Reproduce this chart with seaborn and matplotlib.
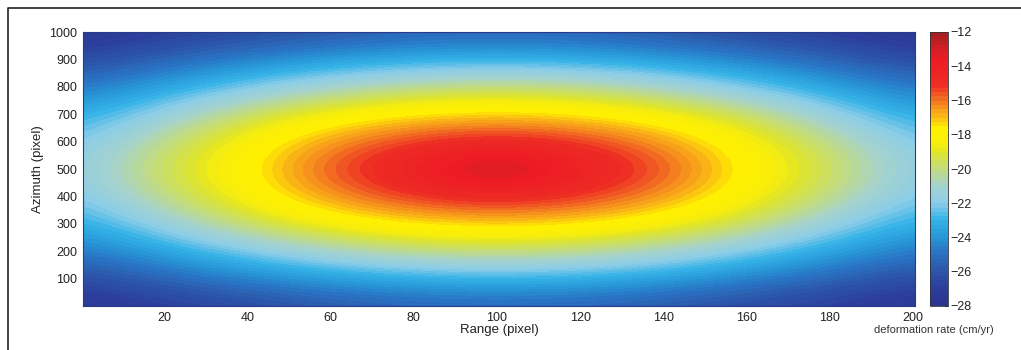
import numpy as np
import matplotlib
matplotlib.use('Agg')
import matplotlib.pyplot as plt
import seaborn as sns
from matplotlib.lines import Line2D
from matplotlib.colors import LinearSegmentedColormap

sns.set_style('white')
plt.rcParams['font.family'] = ['Liberation Sans', 'DejaVu Sans']

# sample positions (range / azimuth, pixels)
range_px = [0, 20, 40, 60, 80, 100, 120, 140, 160, 180, 200]
azimuth_px = [0, 100, 200, 300, 400, 500, 600, 700, 800, 900, 1000]

# deformation rate (cm/yr) at each azimuth row, one value per range sample
rate_az0 = [-27.7, -27.1, -26.5, -26.0, -25.6, -25.5, -25.6, -26.0, -26.5, -27.1, -27.7]
rate_az100 = [-26.4, -25.4, -24.5, -23.7, -23.2, -23.0, -23.2, -23.7, -24.5, -25.4, -26.4]
rate_az200 = [-24.8, -23.5, -22.1, -20.9, -20.1, -19.8, -20.1, -20.9, -22.1, -23.5, -24.8]
rate_az300 = [-23.3, -21.5, -19.6, -18.3, -17.5, -17.2, -17.5, -18.3, -19.6, -21.5, -23.3]
rate_az400 = [-22.2, -20.0, -18.2, -16.4, -15.0, -14.5, -15.0, -16.4, -18.2, -20.0, -22.2]
rate_az500 = [-21.8, -19.4, -17.8, -15.4, -13.9, -12.0, -13.9, -15.4, -17.8, -19.4, -21.8]
rate_az600 = [-22.2, -20.0, -18.2, -16.4, -15.0, -14.5, -15.0, -16.4, -18.2, -20.0, -22.2]
rate_az700 = [-23.3, -21.5, -19.6, -18.3, -17.5, -17.2, -17.5, -18.3, -19.6, -21.5, -23.3]
rate_az800 = [-24.8, -23.5, -22.1, -20.9, -20.1, -19.8, -20.1, -20.9, -22.1, -23.5, -24.8]
rate_az900 = [-26.4, -25.4, -24.5, -23.7, -23.2, -23.0, -23.2, -23.7, -24.5, -25.4, -26.4]
rate_az1000 = [-27.7, -27.1, -26.5, -26.0, -25.6, -25.5, -25.6, -26.0, -26.5, -27.1, -27.7]

grid = np.array([rate_az0, rate_az100, rate_az200, rate_az300, rate_az400, rate_az500,
                 rate_az600, rate_az700, rate_az800, rate_az900, rate_az1000])

cbar_ticks = [-28, -26, -24, -22, -20, -18, -16, -14, -12]

# colour scale as printed in the figure (a muted jet)
cmap_levels = [-28, -27, -26, -25, -24, -23, -22, -21, -20, -19, -18.5, -17.6,
               -16.9, -16.2, -15.6, -15.0, -13.5, -12.9, -12]
cmap_colors = ['#2b3590', '#2c3f9c', '#2d56aa', '#2a72c2', '#2897d8', '#35b3e8', '#8ccde9',
               '#a5d3cf', '#c3dc7e', '#dfe52a', '#f8ee0c', '#fff200', '#fbb915', '#f58a1f',
               '#f15a23', '#ee2c24', '#ed1c24', '#d41f26', '#a81e22']

vmin, vmax = cmap_levels[0], cmap_levels[-1]
cmap = LinearSegmentedColormap.from_list(
    'printed_jet', [((v - vmin) / (vmax - vmin), c) for v, c in zip(cmap_levels, cmap_colors)], N=64)

fig = plt.figure(figsize=(10.21, 3.5), dpi=100)
ax = fig.add_axes([83 / 1021, 44 / 350, 832 / 1021, 274 / 350])
cax = fig.add_axes([930 / 1021, 44 / 350, 18 / 1021, 274 / 350])

dr = (range_px[1] - range_px[0]) / 2
da = (azimuth_px[1] - azimuth_px[0]) / 2
im = ax.imshow(grid, origin='lower', aspect='auto', cmap=cmap, vmin=vmin, vmax=vmax,
               interpolation='bicubic',
               extent=[range_px[0] - dr, range_px[-1] + dr, azimuth_px[0] - da, azimuth_px[-1] + da])
ax.set_xlim(0.5, 200.5)
ax.set_ylim(0.5, 1000.5)

ax.set_xticks(range(20, 201, 20))
ax.set_yticks(range(100, 1001, 100))
ax.tick_params(direction='in', length=4, width=0.8, color='#1a2a7a', labelsize=9,
               labelcolor='#222222', pad=4)
ax.set_xlabel('Range (pixel)', fontsize=9.5, color='#222222', labelpad=0)
ax.set_ylabel('Azimuth (pixel)', fontsize=9.5, color='#222222', labelpad=4)
for s in ax.spines.values():
    s.set_color('#2a3a8a')
    s.set_linewidth(0.8)

cb = fig.colorbar(im, cax=cax, ticks=cbar_ticks)
cb.outline.set_edgecolor('#333333')
cb.outline.set_linewidth(0.6)
cax.tick_params(direction='in', length=3, width=0.6, labelsize=9, labelcolor='#222222', pad=2)

fig.text(934 / 1021, 1 - 330 / 350, 'deformation rate (cm/yr)', ha='center', va='center',
         fontsize=8, color='#333333')

# outer frame (top and left edges)
fig.add_artist(Line2D([8 / 1021, 8 / 1021, 1.0], [0.0, 1 - 8 / 350, 1 - 8 / 350],
                      transform=fig.transFigure, color='#222222', linewidth=1.2))

fig.savefig('out.png', dpi=100)
